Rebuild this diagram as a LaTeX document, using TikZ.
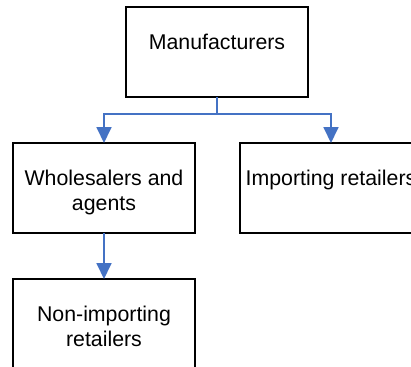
\documentclass[tikz,border=0pt]{standalone}
\usepackage{fontspec}
\setmainfont{Liberation Sans}
\usetikzlibrary{arrows.meta}
\definecolor{connblue}{RGB}{68,114,196}
\newcommand{\boxtext}[1]{\parbox[c][90bp][t]{182bp}{\centering\rule{0pt}{42bp}#1}}
\tikzset{
  orgbox/.style={draw=black, line width=1.3bp, inner sep=0pt, outer sep=0pt,
    font=\fontsize{21.4}{26}\selectfont},
  conn/.style={draw=connblue, line width=1.8bp,
    -{Triangle[length=16bp,width=15bp]}},
  connplain/.style={draw=connblue, line width=1.8bp}
}
\begin{document}
\begin{tikzpicture}[x=1bp,y=-1bp]
\useasboundingbox (0,0) rectangle (411,367);
\node[orgbox] (M) at (217,52) {\boxtext{Manufacturers}};
\node[orgbox] (W) at (104,188) {\boxtext{Wholesalers and\\agents}};
\node[orgbox] (I) at (331,188) {\boxtext{Importing retailers}};
\node[orgbox] (N) at (104,324) {\boxtext{Non-importing\\retailers}};
\coordinate (J) at ([yshift=-17bp]M.south);
\draw[connplain] (M.south) -- (J);
\draw[conn] (J) -| (W.north);
\draw[conn] (J) -| (I.north);
\draw[conn] (W.south) -- (N.north);
\end{tikzpicture}
\end{document}
